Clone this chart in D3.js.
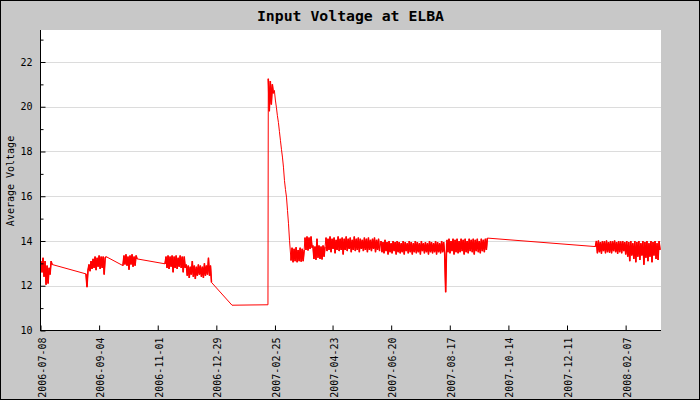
<!DOCTYPE html>
<html>
<head>
<meta charset="utf-8">
<script src="https://cdn.jsdelivr.net/npm/d3@7"></script>
<style>
  body { margin: 0; background: #c8c8c8; }
  svg { display: block; }
</style>
</head>
<body>
<script>
// readings, one value per day from each start
let b1 = [13.1, 12.6, 13.25, 12.4, 13.1, 12.05, 12.9, 12.1, 12.8, 12.5, 13.1, 12.95];
let b2 = [12.53, 11.94, 12.7, 12.95, 12.65, 13.1, 12.75, 13.2, 12.8, 13.3, 12.7, 13.25, 12.85, 13.35, 12.75, 13.3, 12.8, 13.3, 12.5, 13.25, 13.3];
let b3 = [12.9, 13.35, 12.95, 13.4, 12.9, 13.3, 12.72, 13.35, 12.95, 13.4, 12.85, 13.3, 12.9, 13.35, 13.2];
let b4 = [12.98, 13.3, 12.8, 13.35, 12.75, 13.3, 12.85, 13.35, 12.6, 13.3, 12.8, 13.35, 12.75, 13.25, 12.85, 13.35, 12.8, 13.3, 12.6, 13.3, 12.8,
  12.95, 12.45, 12.9, 12.35, 12.85, 12.5, 13.1, 12.4, 12.9, 12.3, 12.85, 12.45, 12.95, 12.5, 12.9, 12.4, 12.85, 12.35, 13.0, 12.45, 12.9, 12.5, 13.25, 12.45, 12.9, 12.15];
let gap1 = [11.13];
let gap2 = [11.15];
let b5 = [21.25, 19.8, 21.15, 20.1, 21.0, 20.6];
let b5fall = [20.73, 20.3, 19.98, 19.6, 19.3, 18.9, 18.5, 18.1, 17.75, 17.3, 16.7, 16.3, 15.96, 15.36, 14.77, 14.02];
let b6a = [13.13, 13.7, 13.05, 13.65, 13.1, 13.72, 13.05, 13.6, 13.1, 13.7, 13.08, 13.65, 13.1, 13.6];
let b6b = [14.15, 13.6, 14.2, 13.58, 14.15, 13.65, 14.2, 13.7];
let b6c = [13.8, 13.2, 13.75, 13.16, 14.1, 13.25, 13.8, 13.2, 13.75, 13.18, 13.8, 13.3, 13.75];
let b6d = [14.15, 13.55, 14.1, 13.6, 14.2, 13.5, 14.1, 13.65, 14.15, 13.45, 14.05, 13.6, 14.2, 13.55, 14.1, 13.6, 14.15, 13.4,
  14.1, 13.6, 14.2, 13.55, 14.1, 13.65, 14.15, 13.5, 14.05, 13.6, 14.2, 13.55, 14.1, 13.6, 14.15, 13.5, 14.1, 13.65,
  14.05, 13.55, 14.15, 13.6, 14.1, 13.5, 14.15, 13.6, 14.05, 13.55, 14.1, 13.65, 14.15, 13.5, 14.05, 13.6, 14.1, 13.55];
let b6e = [14.0, 13.5, 13.95, 13.45, 14.05, 13.55, 13.95, 13.4, 14.0, 13.5, 13.9, 13.45, 14.0, 13.55, 13.95, 13.4,
  14.0, 13.5, 13.95, 13.45, 13.9, 13.5, 14.0, 13.4, 13.95, 13.55, 13.9, 13.45, 14.0, 13.5, 13.95, 13.4,
  13.9, 13.5, 14.0, 13.45, 13.95, 13.5, 13.9, 13.4, 14.0, 13.55, 13.9, 13.45, 13.95, 13.5, 13.9, 13.4,
  14.0, 13.5, 13.95, 13.45, 13.9, 13.5, 14.0, 13.4, 13.95, 13.5, 13.9, 13.45, 14.0, 13.5, 13.95, 13.45, 11.71, 13.9];
let b6f = [14.05, 13.5, 14.1, 13.45, 14.0, 13.55, 14.1, 13.4, 14.05, 13.5, 14.1, 13.45, 14.0, 13.5, 14.1, 13.55, 14.05, 13.4,
  14.1, 13.5, 14.0, 13.45, 14.1, 13.55, 14.05, 13.5, 14.1, 13.4, 14.05, 13.55, 14.1, 13.5, 14.0, 13.45, 14.1, 13.55,
  14.05, 13.5, 14.1, 13.6, 14.13];
let b7 = [13.75, 14.0, 13.45, 14.02, 13.5, 13.95, 13.43, 14.0, 13.55, 13.98, 13.45, 14.02, 13.5, 13.95, 13.48, 14.0,
  13.45, 13.98, 13.55, 14.02, 13.5, 13.95, 13.43, 14.0, 13.5, 13.98, 13.45, 14.0, 13.55, 13.95, 13.4,
  14.0, 13.3, 13.95, 13.1, 14.0, 13.35, 13.9, 13.2, 14.0, 13.05, 13.95, 13.3, 14.0, 13.15, 13.9, 13.35,
  14.0, 12.94, 13.95, 13.25, 14.0, 13.1, 13.9, 13.3, 14.0, 13.05, 13.95, 13.35, 14.0, 13.2, 13.9, 13.15, 14.0, 13.6];

let burstStarts = ["2006-07-08T12:00", "2006-08-22T00:00", "2006-09-27T14:00", "2006-11-08T05:00",
  "2007-01-13T12:00", "2007-02-18T02:00", "2007-02-18T10:00", "2007-02-24T10:00", "2007-03-12T22:00", "2007-03-26T17:00",
  "2007-04-03T14:00", "2007-04-16T12:00", "2007-06-09T22:00", "2007-08-14T05:00", "2008-01-08T02:00"];
let burstValues = [b1, b2, b3, b4, gap1, gap2, b5, b5fall, b6a, b6b, b6c, b6d, b6e, b6f, b7];
let denseBursts = [b1, b2, b3, b4, b5, b6a, b6b, b6c, b6d, b6e, b6f, b7];

let xTickLabels = ["2006-07-08", "2006-09-04", "2006-11-01", "2006-12-29", "2007-02-25", "2007-04-23",
  "2007-06-20", "2007-08-17", "2007-10-14", "2007-12-11", "2008-02-07"];
let yTicks = [10, 12, 14, 16, 18, 20, 22];
let yMinorTicks = [11, 13, 15, 17, 19, 21, 23];

let width = 700, height = 400;
let plotL = 40, plotR = 661, plotT = 30, plotB = 330;

let parse = d3.timeParse("%Y-%m-%dT%H:%M");
let parseDay = d3.timeParse("%Y-%m-%d");
let DAY = 864e5;

let toPoints = (vals, start) => {
  let t0 = parse(start).getTime();
  return vals.map((v, j) => ({ t: new Date(t0 + j * DAY), v: v }));
};
let points = [];
burstValues.forEach((vals, i) => { points = points.concat(toPoints(vals, burstStarts[i])); });

let svg = d3.select("body").append("svg")
  .attr("width", width).attr("height", height);

svg.append("rect").attr("x", 0.5).attr("y", 0.5).attr("width", width - 1).attr("height", height - 1)
  .attr("fill", "#c8c8c8").attr("stroke", "#000");

svg.append("rect").attr("x", plotL).attr("y", plotT).attr("width", plotR - plotL).attr("height", plotB - plotT)
  .attr("fill", "#fff");

let xScale = d3.scaleTime()
  .domain([parseDay("2006-07-08"), parseDay("2008-03-13")])
  .range([plotL + 0.5, plotR]);
let yScale = d3.scaleLinear()
  .domain([10, 23.43])
  .range([plotB + 0.5, plotT]);

// grid
svg.append("g").selectAll("line").data(yTicks.slice(1)).enter().append("line")
  .attr("x1", plotL).attr("x2", plotR)
  .attr("y1", (d) => Math.round(yScale(d)) + 0.5).attr("y2", (d) => Math.round(yScale(d)) + 0.5)
  .attr("stroke", "#dcdcdc");

// series
svg.append("clipPath").attr("id", "clip").append("rect")
  .attr("x", plotL).attr("y", plotT).attr("width", plotR - plotL).attr("height", plotB - plotT);

let line = d3.line().x((d) => xScale(d.t)).y((d) => yScale(d.v));
let series = svg.append("g").attr("clip-path", "url(#clip)");
series.append("path").datum(points)
  .attr("d", line)
  .attr("fill", "none").attr("stroke", "#ff0000").attr("stroke-width", 1);
// dense stretches of readings look solid in the original
series.selectAll(".dense").data(denseBursts).enter().append("path")
  .attr("class", "dense")
  .attr("d", (vals) => line(toPoints(vals, burstStarts[burstValues.indexOf(vals)])))
  .attr("fill", "none").attr("stroke", "#ff0000").attr("stroke-width", 1.5)
  .attr("stroke-linejoin", "bevel");

let font = "'DejaVu Sans Mono', monospace";

// x axis
let xAxis = d3.axisBottom(xScale)
  .tickValues(xTickLabels.map(parseDay))
  .tickFormat(d3.timeFormat("%Y-%m-%d"))
  .tickSizeInner(-5).tickSizeOuter(0);
let gx = svg.append("g").attr("transform", "translate(0," + (plotB + 0.5) + ")").call(xAxis);
gx.select(".domain").attr("d", "M" + plotL + ",0H" + plotR).attr("stroke", "#000");
gx.selectAll(".tick line").attr("stroke", "#000");
gx.selectAll("text")
  .attr("font-family", font).attr("font-size", "10px").attr("fill", "#000")
  .attr("text-anchor", "end")
  .attr("transform", "rotate(-90)")
  .attr("x", -7).attr("y", 1).attr("dy", "0.35em");

// y axis
let yAxis = d3.axisLeft(yScale).tickValues(yTicks).tickSizeInner(-5).tickSizeOuter(0).tickPadding(8);
let gy = svg.append("g").attr("transform", "translate(" + (plotL + 0.5) + ",0)").call(yAxis);
gy.select(".domain").attr("d", "M0," + plotT + "V" + (plotB + 0.5)).attr("stroke", "#000");
gy.selectAll(".tick line").attr("stroke", "#000");
gy.selectAll("text").attr("font-family", font).attr("font-size", "10px").attr("fill", "#000");

let yMinor = d3.axisLeft(yScale).tickValues(yMinorTicks).tickSizeInner(-3).tickSizeOuter(0).tickFormat("");
let gm = svg.append("g").attr("transform", "translate(" + (plotL + 0.5) + ",0)").call(yMinor);
gm.select(".domain").remove();
gm.selectAll(".tick line").attr("stroke", "#000");

// titles
svg.append("text")
  .attr("x", 350.5).attr("y", 21)
  .attr("text-anchor", "middle")
  .attr("font-family", font).attr("font-size", "14.8px").attr("font-weight", "bold")
  .text("Input Voltage at ELBA");

svg.append("text")
  .attr("transform", "translate(10," + ((plotT + plotB) / 2 + 1) + ") rotate(-90)")
  .attr("text-anchor", "middle").attr("dy", "0.35em")
  .attr("font-family", font).attr("font-size", "10px")
  .text("Average Voltage");
</script>
</body>
</html>
